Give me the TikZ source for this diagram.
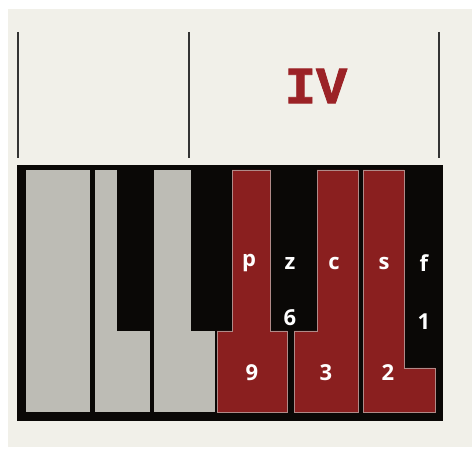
\documentclass[tikz,border=0pt]{standalone}
\usepackage{fontspec}
\setsansfont{Open Sans}
\newfontfamily\monofnt[FakeBold=1.5]{Liberation Mono}
\definecolor{bg}{HTML}{F1F0E9}
\definecolor{keyred}{HTML}{8A1F1F}
\definecolor{keygray}{HTML}{BDBCB5}
\definecolor{keyblack}{HTML}{0A0806}
\definecolor{ivred}{HTML}{9B2226}
\definecolor{redline}{HTML}{B08A88}
\tikzset{
  redkey/.style={fill=keyred,draw=redline,line width=0.8pt},
  graykey/.style={fill=keygray,draw=keyblack,line width=0.8pt},
  blackkey/.style={fill=keyblack},
  barline/.style={draw=black!80,line width=2.4pt},
  keylabel/.style={text=white,font=\sffamily\bfseries\fontsize{22}{22}\selectfont,inner sep=0pt,anchor=center}
}
\begin{document}
\begin{tikzpicture}[x=1pt,y=-1pt]
\useasboundingbox (0,0) rectangle (472,449);
\fill[white] (0,0) rectangle (472,449);
\fill[bg] (8,9) rectangle (472,447);
% bar lines
\draw[barline] (18,32) -- (18,158);
\draw[barline] (189,32) -- (189,158);
\draw[barline] (439,32) -- (439,158);
\node[text=ivred,font=\monofnt\bfseries\fontsize{52}{52}\selectfont,inner sep=0pt] (iv) at (316,86) {IV};
% keyboard body
\fill[keyblack] (17,165) rectangle (443,421);
% gray keys
\draw[graykey] (25,169) rectangle (90,412);
\draw[graykey] (94,169) rectangle (150,412);
\draw[graykey] (153,169) rectangle (215,412);
% black keys on gray
\fill[blackkey] (117,165) rectangle (152,331);
\fill[blackkey] (191,165) rectangle (231,331);
% red keys
\draw[redkey] (232,170) -- (270,170) -- (270,331) -- (287,331) -- (287,412) -- (217,412) -- (217,331) -- (232,331) -- cycle;
\draw[redkey] (317,170) -- (358,170) -- (358,412) -- (294,412) -- (294,331) -- (317,331) -- cycle;
\draw[redkey] (363,170) -- (404,170) -- (404,368) -- (435,368) -- (435,412) -- (363,412) -- cycle;
% labels
\node[keylabel] (p) at (249,263) {p};
\node[keylabel] (z) at (290,263) {z};
\node[keylabel] (c) at (334,263) {c};
\node[keylabel] (s) at (384,263) {s};
\node[keylabel] (f) at (424,263) {f};
\node[keylabel] (six) at (290,318) {6};
\node[keylabel] (one) at (424,322) {1};
\node[keylabel] (nine) at (252,373) {9};
\node[keylabel] (three) at (326,373) {3};
\node[keylabel] (two) at (388,373) {2};
\end{tikzpicture}
\end{document}
